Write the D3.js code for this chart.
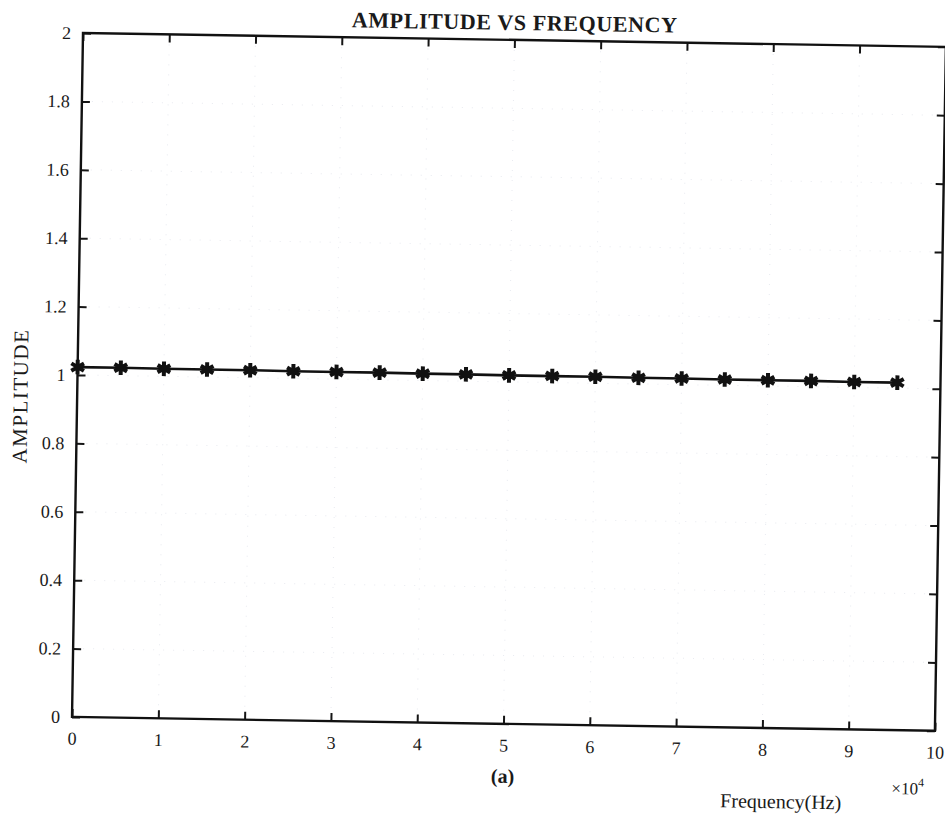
<!DOCTYPE html>
<html>
<head>
<meta charset="utf-8">
<script src="https://cdn.jsdelivr.net/npm/d3@7/dist/d3.min.js"></script>
<style>
  html, body { margin: 0; padding: 0; background: #ffffff; }
  svg { display: block; }
  text { font-family: "Liberation Serif", "Times New Roman", serif; fill: #1a1a1a; }
</style>
</head>
<body>
<svg id="chart" width="945" height="817"></svg>
<script>
// Measured frequency response: sample frequencies (Hz) and amplitudes
const frequencies = [0, 5000, 10000, 15000, 20000, 25000, 30000, 35000, 40000, 45000,
                     50000, 55000, 60000, 65000, 70000, 75000, 80000, 85000, 90000, 95000];
const amplitudes  = [1.023, 1.023, 1.022, 1.022, 1.022, 1.021, 1.021, 1.021, 1.020, 1.020,
                     1.019, 1.019, 1.019, 1.018, 1.018, 1.017, 1.017, 1.017, 1.016, 1.016];

const xTickValues = [0, 10000, 20000, 30000, 40000, 50000, 60000, 70000, 80000, 90000, 100000];
const xTickLabels = ["0", "1", "2", "3", "4", "5", "6", "7", "8", "9", "10"];
const yTickValues = [0, 0.2, 0.4, 0.6, 0.8, 1.0, 1.2, 1.4, 1.6, 1.8, 2.0];
const yTickLabels = ["0", "0.2", "0.4", "0.6", "0.8", "1", "1.2", "1.4", "1.6", "1.8", "2"];

const titleText = "AMPLITUDE VS FREQUENCY";
const yLabelText = "AMPLITUDE";
const xLabelText = "Frequency(Hz)";
const captionText = "(a)";

const W = 863, H = 684;          // plot box size
const svg = d3.select("#chart");

// The printed figure sits slightly tilted on the page
const g = svg.append("g")
  .attr("transform", "translate(83,33) rotate(0.92)");

const x = d3.scaleLinear().domain([0, 100000]).range([0, W]);
const y = d3.scaleLinear().domain([0, 2]).range([H, 0]);

// faint dotted grid
const grid = g.append("g").attr("stroke", "#c9cedd").attr("stroke-width", 1)
  .attr("stroke-dasharray", "1,9").attr("opacity", 0.4);
grid.selectAll("line.gx").data(xTickValues.slice(1, -1)).join("line")
  .attr("x1", d => x(d)).attr("x2", d => x(d)).attr("y1", 0).attr("y2", H);
grid.selectAll("line.gy").data(yTickValues.slice(1, -1)).join("line")
  .attr("y1", d => y(d)).attr("y2", d => y(d)).attr("x1", 0).attr("x2", W);

const tickLen = 8;
const fmtX = d => xTickLabels[xTickValues.indexOf(d)];
const fmtY = d => yTickLabels[yTickValues.indexOf(d)];

function styleAxis(sel) {
  sel.select(".domain").remove();
  sel.selectAll(".tick line").attr("stroke", "#151515").attr("stroke-width", 2);
  sel.selectAll(".tick text").attr("fill", "#1a1a1a").attr("font-size", 18)
    .attr("font-family", "'Liberation Serif', serif");
}

g.append("g").attr("transform", `translate(0,${H})`)
  .call(d3.axisBottom(x).tickValues(xTickValues).tickFormat(fmtX)
    .tickSizeInner(-tickLen).tickSizeOuter(0).tickPadding(15))
  .call(styleAxis);

g.append("g")
  .call(d3.axisTop(x).tickValues(xTickValues).tickFormat("")
    .tickSizeInner(-tickLen).tickSizeOuter(0))
  .call(styleAxis);

g.append("g")
  .call(d3.axisLeft(y).tickValues(yTickValues).tickFormat(fmtY)
    .tickSizeInner(-tickLen).tickSizeOuter(0).tickPadding(12))
  .call(styleAxis);

g.append("g").attr("transform", `translate(${W},0)`)
  .call(d3.axisRight(y).tickValues(yTickValues).tickFormat("")
    .tickSizeInner(-tickLen).tickSizeOuter(0))
  .call(styleAxis);

// axes box
g.append("rect").attr("x", 0).attr("y", 0).attr("width", W).attr("height", H)
  .attr("fill", "none").attr("stroke", "#111").attr("stroke-width", 2.4);

// data line with asterisk markers
const line = d3.line().x((d, i) => x(frequencies[i])).y(d => y(d));
g.append("path").datum(amplitudes).attr("d", line)
  .attr("fill", "none").attr("stroke", "#111").attr("stroke-width", 2.6);

const star = d3.symbol().type(d3.symbolAsterisk).size(150);
g.selectAll("path.mk").data(amplitudes).join("path")
  .attr("class", "mk")
  .attr("transform", (d, i) => `translate(${x(frequencies[i])},${y(d)})`)
  .attr("d", star).attr("fill", "none").attr("stroke", "#111").attr("stroke-width", 4);

// title and labels
g.append("text").attr("x", W / 2).attr("y", -10).attr("text-anchor", "middle")
  .attr("font-size", 22).attr("font-weight", "bold").attr("letter-spacing", 0.6)
  .text(titleText);

g.append("text").attr("transform", `translate(-57,${H / 2 + 22}) rotate(-90)`)
  .attr("text-anchor", "middle").attr("font-size", 21).attr("letter-spacing", 1.5)
  .attr("dy", "0.35em").text(yLabelText);

g.append("text").attr("x", W / 2).attr("y", H + 59).attr("text-anchor", "middle")
  .attr("font-size", 20).attr("font-weight", "bold").text(captionText);

g.append("text").attr("x", 710).attr("y", H + 80).attr("text-anchor", "middle")
  .attr("font-size", 20).text(xLabelText);

const mult = g.append("text").attr("x", 853).attr("y", H + 64).attr("text-anchor", "end")
  .attr("font-size", 17);
mult.append("tspan").text("\u00d710");
mult.append("tspan").attr("font-size", 12).attr("dy", -8).text("4");
</script>
</body>
</html>
